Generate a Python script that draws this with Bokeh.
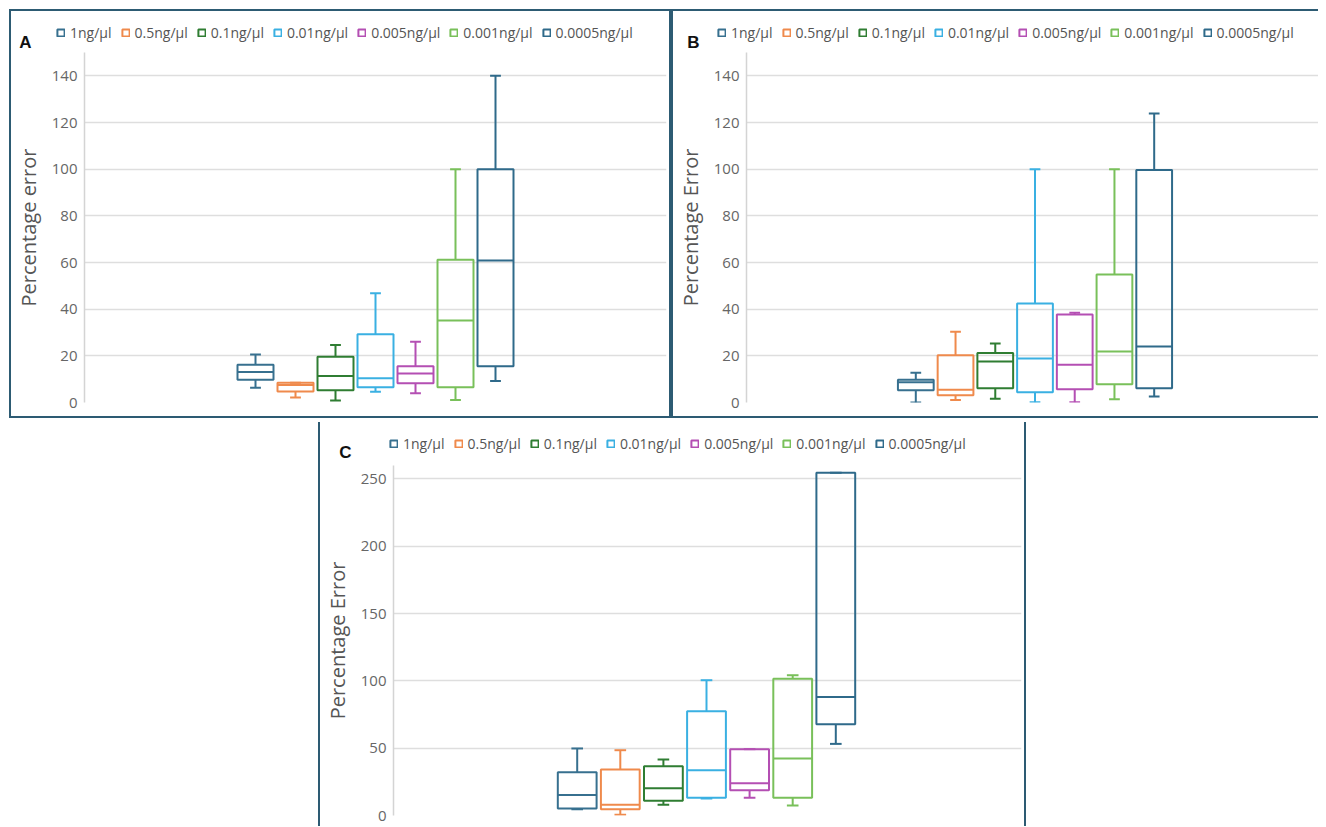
from bokeh.plotting import figure
from bokeh.models import (Range1d, SingleIntervalTicker, Legend, LegendItem, Label,
                          ColumnDataSource, Spacer)
from bokeh.layouts import row, column
from bokeh.embed import file_html
from bokeh.resources import INLINE

# ---------------- data ----------------
series_labels = ["1ng/µl", "0.5ng/µl", "0.1ng/µl", "0.01ng/µl",
                 "0.005ng/µl", "0.001ng/µl", "0.0005ng/µl"]
series_colors = ["#37708f", "#ef8a4c", "#2f7d32", "#3ab0e2",
                 "#b44fb3", "#79c05a", "#2f6a8a"]

# Panel A  (Percentage error)
a_low  = [6.3, 2.1, 0.9, 4.6, 4.0, 1.1, 9.2]
a_q1   = [9.7, 4.7, 5.3, 6.5, 8.3, 6.5, 15.5]
a_med  = [13.1, 7.5, 11.4, 10.4, 12.4, 35.1, 60.9]
a_q3   = [16.2, 8.5, 19.6, 29.2, 15.5, 61.2, 100.0]
a_high = [20.6, 8.5, 24.6, 46.8, 26.0, 100.0, 140.0]

# Panel B  (Percentage Error)
b_low  = [0.0, 1.1, 1.6, 0.1, 0.1, 1.4, 2.6]
b_q1   = [5.3, 3.1, 6.1, 4.4, 5.7, 7.8, 6.1]
b_med  = [8.7, 5.5, 17.6, 18.9, 16.2, 21.9, 24.0]
b_q3   = [9.8, 20.3, 21.2, 42.4, 37.7, 54.9, 99.6]
b_high = [12.7, 30.3, 25.3, 100.0, 38.5, 100.0, 123.9]

# Panel C  (Percentage Error)
c_low  = [4.7, 0.5, 7.9, 12.6, 13.1, 7.4, 53.2]
c_q1   = [5.2, 4.7, 10.9, 13.1, 18.8, 13.1, 67.8]
c_med  = [15.3, 7.9, 20.3, 33.7, 24.0, 42.3, 88.1]
c_q3   = [32.2, 34.2, 36.6, 77.5, 49.3, 101.5, 254.7]
c_high = [49.8, 48.5, 41.6, 100.5, 49.3, 104.2, 254.7]

# ---------------- style ----------------
FONT = "Open Sans"
BORDER = "2px solid #2d5b73"
BOX_W = 0.9
CAP_W = 0.27


def make_sources(low, q1, med, q3, high):
    srcs = []
    for i in range(len(series_labels)):
        xc = i - 3
        srcs.append(ColumnDataSource(dict(
            x=[xc], low=[low[i]], q1=[q1[i]], med=[med[i]], q3=[q3[i]], high=[high[i]],
            xl=[xc - BOX_W / 2], xr=[xc + BOX_W / 2],
            cl=[xc - CAP_W / 2], cr=[xc + CAP_W / 2])))
    return srcs


def make_header(letter, srcs, width, height, styles, legend_xy, letter_xy):
    h = figure(width=width, height=height, output_backend="svg", toolbar_location=None,
               x_range=Range1d(0, width), y_range=Range1d(0, height),
               x_axis_location=None, y_axis_location=None,
               min_border=0, background_fill_color="white", border_fill_color="white")
    h.frame_align = False
    h.styles = styles
    h.outline_line_color = None
    h.xgrid.visible = False
    h.ygrid.visible = False
    items = []
    for i, src in enumerate(srcs):
        # legend key only: hidden renderer, the box itself is drawn in the plot below
        key = h.vbar(x="x", width=BOX_W, bottom="q1", top="q3", source=src,
                     fill_alpha=0, line_color=series_colors[i], line_width=2)
        key.visible = False
        items.append(LegendItem(label=series_labels[i], renderers=[key]))
    leg = Legend(items=items, location=legend_xy, orientation="horizontal",
                 padding=0, margin=0, spacing=9, label_standoff=5,
                 glyph_width=9, glyph_height=9, label_height=14,
                 label_text_font=FONT, label_text_font_size="14px",
                 label_text_color="#555555", border_line_color=None,
                 background_fill_alpha=0, inactive_fill_alpha=0)
    h.add_layout(leg)
    h.add_layout(Label(x=letter_xy[0], y=letter_xy[1], x_units="screen", y_units="screen",
                       text=letter, text_font="Liberation Sans", text_font_style="bold",
                       text_font_size="17px", text_color="#111111",
                       text_align="center", text_baseline="middle"))
    return h


def make_panel(ylabel, srcs, y_end, tick_step,
               width, height, mb_left, mb_right, mb_bottom, slot_px, center_px, styles):
    fw = width - mb_left - mb_right
    x0 = -center_px / slot_px
    x1 = (fw - center_px) / slot_px
    p = figure(width=width, height=height, output_backend="svg", toolbar_location=None,
               x_range=Range1d(x0, x1), y_range=Range1d(0, y_end),
               min_border_left=mb_left, min_border_right=mb_right,
               min_border_top=0, min_border_bottom=mb_bottom,
               background_fill_color="white", border_fill_color="white")
    p.frame_align = False
    p.styles = styles
    p.outline_line_color = None
    p.xaxis.visible = False
    p.xgrid.visible = False
    tick = SingleIntervalTicker(interval=tick_step)
    p.yaxis.ticker = tick
    p.ygrid.ticker = tick
    p.ygrid.grid_line_color = "#dedede"
    p.ygrid.grid_line_width = 1.5
    ax = p.yaxis[0]
    ax.axis_label = ylabel
    ax.axis_label_text_font = FONT
    ax.axis_label_text_font_size = "20px"
    ax.axis_label_text_font_style = "normal"
    ax.axis_label_text_color = "#555555"
    ax.axis_label_standoff = 7
    ax.major_label_text_font = FONT
    ax.major_label_text_font_size = "15px"
    ax.major_label_text_color = "#666666"
    ax.major_label_standoff = 7
    ax.major_tick_line_color = None
    ax.minor_tick_line_color = None
    ax.major_tick_out = 0
    ax.major_tick_in = 0
    ax.minor_tick_out = 0
    ax.minor_tick_in = 0
    ax.axis_line_color = "#d4d4d4"
    ax.axis_line_width = 1.5

    for i, src in enumerate(srcs):
        col = series_colors[i]
        p.vbar(x="x", width=BOX_W, bottom="q1", top="q3", source=src,
               fill_alpha=0, line_color=col, line_width=2)
        p.segment(x0="x", y0="q3", x1="x", y1="high", source=src, line_color=col, line_width=2)
        p.segment(x0="x", y0="q1", x1="x", y1="low", source=src, line_color=col, line_width=2)
        p.segment(x0="cl", y0="high", x1="cr", y1="high", source=src, line_color=col, line_width=2)
        p.segment(x0="cl", y0="low", x1="cr", y1="low", source=src, line_color=col, line_width=2)
        p.segment(x0="xl", y0="med", x1="xr", y1="med", source=src, line_color=col, line_width=2)
    return p


sA = make_sources(a_low, a_q1, a_med, a_q3, a_high)
sB = make_sources(b_low, b_q1, b_med, b_q3, b_high)
sC = make_sources(c_low, c_q1, c_med, c_q3, c_high)

hA = make_header("A", sA, 662, 43, {"border-top": BORDER, "border-left": BORDER, "border-right": BORDER},
                 legend_xy=(45, 12), letter_xy=(14, 12))
pA = make_panel("Percentage error", sA, 150, 20,
                width=662, height=366, mb_left=73, mb_right=7, mb_bottom=16,
                slot_px=40.0, center_px=291.0,
                styles={"border-bottom": BORDER, "border-left": BORDER, "border-right": BORDER})

hB = make_header("B", sB, 647, 43, {"border-top": BORDER, "border-left": BORDER},
                 legend_xy=(44, 12), letter_xy=(20, 12))
pB = make_panel("Percentage Error", sB, 150, 20,
                width=647, height=366, mb_left=72, mb_right=0, mb_bottom=16,
                slot_px=39.8, center_px=289.0,
                styles={"border-bottom": BORDER, "border-left": BORDER})

hC = make_header("C", sC, 708, 43, {"border-left": BORDER, "border-right": BORDER},
                 legend_xy=(69, 12), letter_xy=(25, 13))
pC = make_panel("Percentage Error", sC, 260, 50,
                width=708, height=361, mb_left=73, mb_right=7, mb_bottom=11,
                slot_px=43.1, center_px=313.0,
                styles={"border-left": BORDER, "border-right": BORDER})

layout = column(
    Spacer(width=10, height=9),
    row(Spacer(width=9, height=413), column(hA, pA), column(hB, pB)),
    row(Spacer(width=318, height=404), column(hC, pC)),
)

open("out.html", "w").write(file_html(layout, INLINE))
